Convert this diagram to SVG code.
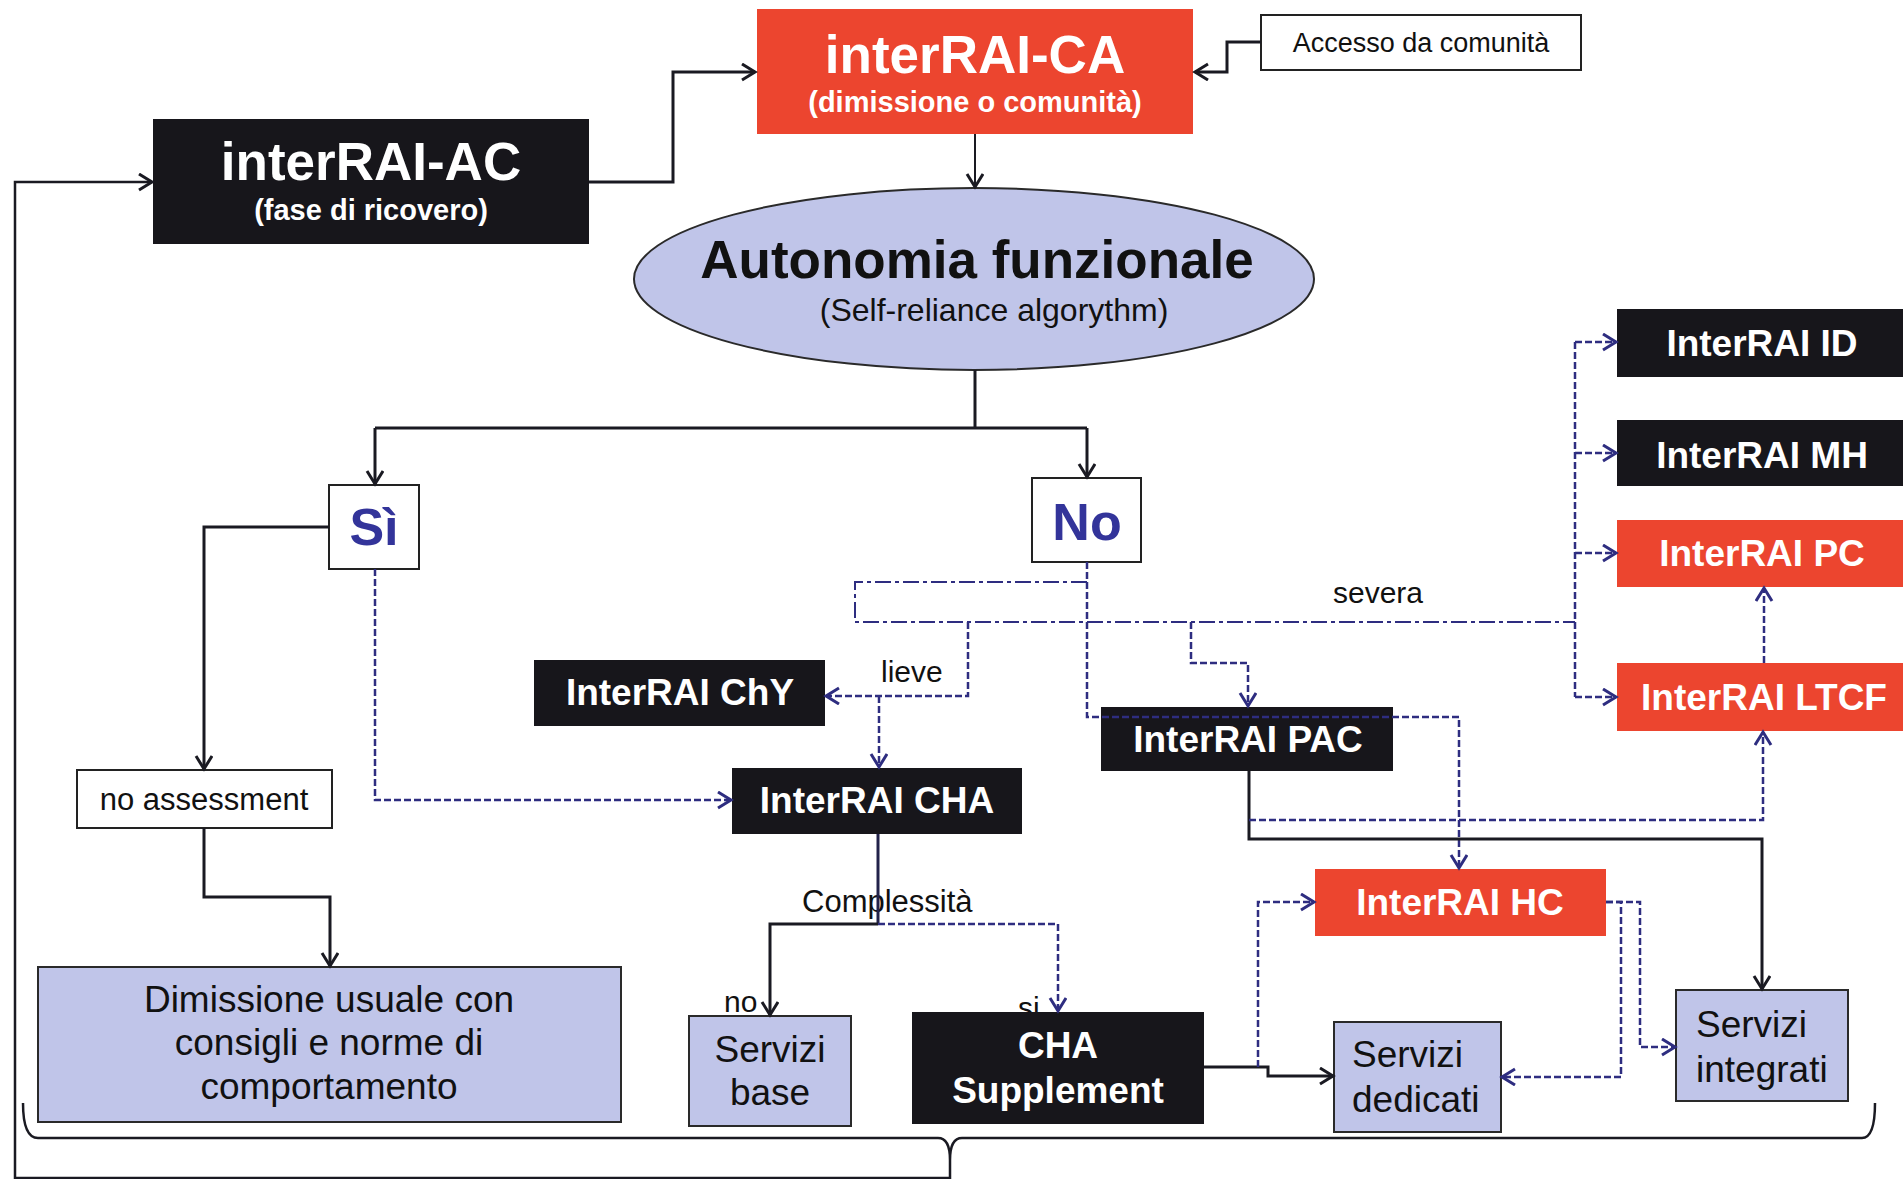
<svg xmlns="http://www.w3.org/2000/svg" width="1903" height="1179" viewBox="0 0 1903 1179">
<style>
text{font-family:"Liberation Sans",Arial,sans-serif}
.blk{fill:#17161b}
.red{fill:#ec452f}
.lav{fill:#c0c5e9;stroke:#2a2a2a;stroke-width:2}
.wht{fill:#fff;stroke:#222;stroke-width:2}
.tw{fill:#fff;font-weight:bold;text-anchor:middle}
.tk{fill:#111;text-anchor:middle}
.tl{fill:#111;text-anchor:start;font-size:37px}
.tb{fill:#33349a;font-weight:bold;text-anchor:middle;font-size:52px}
.lbl{fill:#111;font-size:30px}
.sol{fill:none;stroke:#1a1a22;stroke-width:3}
.das{fill:none;stroke:#2e2d80;stroke-width:2.5;stroke-dasharray:7 3}
.dd{fill:none;stroke:#2e2d80;stroke-width:2;stroke-dasharray:16 4 4 4}
</style>
<defs>
<marker id="ah" markerUnits="userSpaceOnUse" markerWidth="18" markerHeight="20" refX="14" refY="9" orient="auto">
<path d="M1,1 L14,9 L1,17" fill="none" stroke="#1a1a22" stroke-width="3"/>
</marker>
<marker id="ahd" markerUnits="userSpaceOnUse" markerWidth="18" markerHeight="20" refX="14" refY="9" orient="auto">
<path d="M1,1 L14,9 L1,17" fill="none" stroke="#2e2d80" stroke-width="3"/>
</marker>
</defs>

<g id="labels">
<text class="lbl" x="1018" y="1018">si</text>
<text class="lbl" x="881" y="682">lieve</text>
<text class="lbl" x="1333" y="603">severa</text>
<text class="lbl" x="802" y="912" style="font-size:31px">Complessità</text>
<text class="lbl" x="724" y="1012">no</text>
</g>

<g id="node-ac">
<rect class="blk" x="153" y="119" width="436" height="125"/>
<text class="tw" x="371" y="180" font-size="53">interRAI-AC</text>
<text class="tw" x="371" y="220" font-size="29">(fase di ricovero)</text>
</g>
<g id="node-ca">
<rect class="red" x="757" y="9" width="436" height="125"/>
<text class="tw" x="975" y="73" font-size="53">interRAI-CA</text>
<text class="tw" x="975" y="112" font-size="29">(dimissione o comunità)</text>
</g>
<g id="node-accesso">
<rect class="wht" x="1261" y="15" width="320" height="55"/>
<text class="tk" x="1421" y="52" font-size="27">Accesso da comunità</text>
</g>
<g id="node-autonomia">
<ellipse cx="974" cy="279" rx="340" ry="91" fill="#c0c5e9" stroke="#2a2a2a" stroke-width="2"/>
<text class="tk" x="977" y="278" font-size="53" font-weight="bold">Autonomia funzionale</text>
<text class="tk" x="994" y="321" font-size="32">(Self-reliance algorythm)</text>
</g>
<g id="node-si">
<rect class="wht" x="329" y="485" width="90" height="84"/>
<text class="tb" x="374" y="545">Sì</text>
</g>
<g id="node-no">
<rect class="wht" x="1032" y="478" width="109" height="84"/>
<text class="tb" x="1087" y="540">No</text>
</g>
<g id="node-noassessment">
<rect class="wht" x="77" y="770" width="255" height="58"/>
<text class="tk" x="204" y="810" font-size="31">no assessment</text>
</g>
<g id="node-dimissione">
<rect class="lav" x="38" y="967" width="583" height="155"/>
<text class="tk" x="329" y="1012" font-size="37">Dimissione usuale con</text>
<text class="tk" x="329" y="1055" font-size="37">consigli e norme di</text>
<text class="tk" x="329" y="1099" font-size="37">comportamento</text>
</g>
<g id="node-chy">
<rect class="blk" x="534" y="660" width="291" height="66"/>
<text class="tw" x="680" y="705" font-size="37">InterRAI ChY</text>
</g>
<g id="node-cha">
<rect class="blk" x="732" y="768" width="290" height="66"/>
<text class="tw" x="877" y="813" font-size="37">InterRAI CHA</text>
</g>
<g id="node-pac">
<rect class="blk" x="1101" y="707" width="292" height="64"/>
<text class="tw" x="1248" y="752" font-size="37">InterRAI PAC</text>
</g>
<g id="node-hc">
<rect class="red" x="1315" y="869" width="291" height="67"/>
<text class="tw" x="1460" y="915" font-size="37">InterRAI HC</text>
</g>
<g id="node-id">
<rect class="blk" x="1617" y="309" width="290" height="68"/>
<text class="tw" x="1762" y="356" font-size="37">InterRAI ID</text>
</g>
<g id="node-mh">
<rect class="blk" x="1617" y="420" width="290" height="66"/>
<text class="tw" x="1762" y="468" font-size="37">InterRAI MH</text>
</g>
<g id="node-pc">
<rect class="red" x="1617" y="520" width="290" height="67"/>
<text class="tw" x="1762" y="566" font-size="37">InterRAI PC</text>
</g>
<g id="node-ltcf">
<rect class="red" x="1617" y="663" width="290" height="68"/>
<text class="tw" x="1764" y="710" font-size="37">InterRAI LTCF</text>
</g>
<g id="node-servizibase">
<rect class="lav" x="689" y="1016" width="162" height="110"/>
<text class="tk" x="770" y="1062" font-size="37">Servizi</text>
<text class="tk" x="770" y="1105" font-size="37">base</text>
</g>
<g id="node-chasupplement">
<rect class="blk" x="912" y="1012" width="292" height="112"/>
<text class="tw" x="1058" y="1058" font-size="37">CHA</text>
<text class="tw" x="1058" y="1103" font-size="37">Supplement</text>
</g>
<g id="node-servizidedicati">
<rect class="lav" x="1334" y="1022" width="167" height="110"/>
<text class="tl" x="1352" y="1067">Servizi</text>
<text class="tl" x="1352" y="1112">dedicati</text>
</g>
<g id="node-serviziintegrati">
<rect class="lav" x="1676" y="990" width="172" height="111"/>
<text class="tl" x="1696" y="1037">Servizi</text>
<text class="tl" x="1696" y="1082">integrati</text>
</g>

<g id="connectors">
<path class="sol" d="M589,182 L673,182 L673,72 L755,72" marker-end="url(#ah)"/>
<path class="sol" d="M1261,42 L1227,42 L1227,72 L1195,72" marker-end="url(#ah)"/>
<path class="sol" style="stroke-width:2" d="M975,134 L975,187" marker-end="url(#ah)"/>
<path class="sol" d="M975,370 L975,428"/>
<path class="sol" d="M375,428 L1087,428"/>
<path class="sol" d="M375,428 L375,484" marker-end="url(#ah)"/>
<path class="sol" d="M1087,428 L1087,477" marker-end="url(#ah)"/>
<path class="sol" d="M329,527 L204,527 L204,769" marker-end="url(#ah)"/>
<path class="sol" d="M204,828 L204,897 L330,897 L330,966" marker-end="url(#ah)"/>
<path class="das" d="M375,569 L375,800 L731,800" marker-end="url(#ahd)"/>
<path class="das" d="M1087,562 L1087,717 L1459,717 L1459,868" marker-end="url(#ahd)"/>
<path class="dd" d="M1087,582 L855,582 L855,622 L1575,622"/>
<path class="das" d="M1575,342 L1575,697"/>
<path class="das" d="M1575,342 L1616,342" marker-end="url(#ahd)"/>
<path class="das" d="M1575,453 L1616,453" marker-end="url(#ahd)"/>
<path class="das" d="M1575,553 L1616,553" marker-end="url(#ahd)"/>
<path class="das" d="M1575,697 L1616,697" marker-end="url(#ahd)"/>
<path class="das" d="M968,622 L968,696 L826,696" marker-end="url(#ahd)"/>
<path class="das" d="M879,696 L879,767" marker-end="url(#ahd)"/>
<path class="das" d="M1191,622 L1191,663 L1248,663 L1248,706" marker-end="url(#ahd)"/>
<path class="sol" d="M1249,771 L1249,839 L1762,839 L1762,989" marker-end="url(#ah)"/>
<path class="das" d="M1249,820 L1763,820 L1763,732" marker-end="url(#ahd)"/>
<path class="das" d="M1764,663 L1764,588" marker-end="url(#ahd)"/>
<path class="sol" style="stroke:#22224a" d="M878,834 L878,924"/>
<path class="sol" d="M878,924 L770,924 L770,1015" marker-end="url(#ah)"/>
<path class="das" d="M878,924 L1058,924 L1058,1011" marker-end="url(#ahd)"/>
<path class="sol" d="M1204,1067 L1268,1067 L1268,1076 L1333,1076" marker-end="url(#ah)"/>
<path class="das" d="M1258,1067 L1258,902 L1314,902" marker-end="url(#ahd)"/>
<path class="das" d="M1606,902 L1621,902 L1621,1077 L1502,1077" marker-end="url(#ahd)"/>
<path class="das" d="M1606,902 L1640,902 L1640,1047 L1675,1047" marker-end="url(#ahd)"/>
<path class="sol" style="stroke-width:2.5" d="M23,1103 Q23,1138 38,1138 L938,1138 Q950,1138 950,1160 L950,1179 M950,1160 Q950,1138 962,1138 L1862,1138 Q1875,1138 1875,1103"/>
<path class="sol" style="stroke-width:2.5" d="M950,1178 L15,1178 L15,182 L152,182" marker-end="url(#ah)"/>
</g>
</svg>
